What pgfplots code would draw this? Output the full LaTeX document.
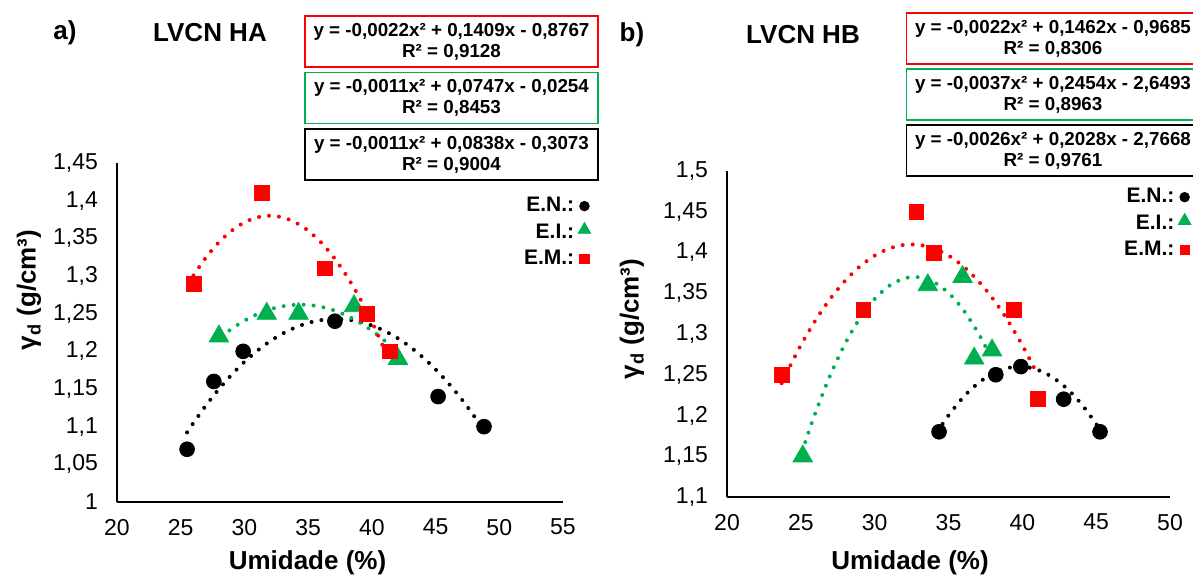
\documentclass[border=0pt]{standalone}
\usepackage{pgfplots}
\pgfplotsset{compat=1.18}
\usepackage{fontspec}
\setmainfont{Liberation Sans}
\definecolor{exred}{RGB}{255,0,0}
\definecolor{exgreen}{RGB}{0,176,80}

\pgfplotsset{
  myax/.style={
    scale only axis,
    axis lines*=left,
    axis line style={line width=0.8pt, black},
    major tick length=0pt,
    tick style={draw=none},
    tick label style={font=\fontsize{11.5}{13}\selectfont},
    /pgf/number format/use comma,
    /pgf/number format/assume math mode=true,
    yticklabel style={xshift=-6pt},
    xticklabel style={yshift=-5pt},
    clip=false,
    legend style={draw=none, fill=none, font=\bfseries\fontsize{10.5}{12}\selectfont,
                  row sep=0.5pt, inner sep=0pt, anchor=north east},
    legend plot pos=right,
    legend cell align=right,
  },
  trend/.style={line width=2pt, line cap=round, dash pattern=on 0pt off 5pt,
                smooth, no markers, forget plot},
  ptN/.style={only marks, mark=*, mark size=3.7pt, mark options={fill=black, draw=black},
              legend image code/.code={\draw[mark size=2.4pt] plot coordinates {(0.1cm,0cm)};}},
  ptI/.style={only marks, mark=triangle*, mark size=5.6pt, mark options={fill=exgreen, draw=exgreen},
              legend image code/.code={\draw[mark size=3.6pt] plot coordinates {(0.1cm,0.05cm)};}},
  ptM/.style={only marks, mark=square*, mark size=3.7pt, mark options={fill=exred, draw=exred},
              legend image code/.code={\draw[mark size=2.3pt] plot coordinates {(0.1cm,0cm)};}},
}

\begin{document}
\begin{tikzpicture}
\path[use as bounding box] (0,0) rectangle (596.5pt,-288.5pt);
\clip (0,0) rectangle (596.5pt,-288.5pt);

% ---------------- a) LVCN HA ----------------
\begin{axis}[myax,
  at={(58.5pt,-251pt)}, anchor=south west,
  width=223pt, height=169.5pt,
  xmin=20, xmax=55, ymin=1, ymax=1.45,
  xtick={20,25,30,35,40,45,50,55},
  ytick={1,1.05,1.1,1.15,1.2,1.25,1.3,1.35,1.4,1.45},
  legend style={at={(1.063,0.9115)}},
]
% trendlines
\addplot[trend, black] coordinates {
(25.5,1.0924)(26,1.1050)(27,1.1286)(28,1.1499)(29,1.1690)(30,1.1860)(31,1.2007)
(32,1.2133)(33,1.2236)(34,1.2317)(35,1.2377)(36,1.2414)(37,1.2430)(38,1.2423)
(39,1.2394)(40,1.2344)(41,1.2271)(42,1.2177)(43,1.2060)(44,1.1921)(45,1.1761)
(46,1.1578)(47,1.1374)(48,1.1147)(48.8,1.0950)};
\addplot[trend, exgreen] coordinates {
(28.2,1.2197)(29,1.2299)(30,1.2407)(31,1.2493)(32,1.2557)(33,1.2598)(34,1.2618)
(35,1.2616)(36,1.2592)(37,1.2546)(38,1.2477)(39,1.2387)(40,1.2275)(41,1.2141)(42,1.1985)};
\addplot[trend, exred] coordinates {
(26,1.3008)(27,1.325)(28,1.3448)(29,1.3602)(30,1.3712)(31,1.3778)(32,1.38)
(33,1.3778)(34,1.3712)(35,1.3602)(36,1.3448)(37,1.325)(38,1.3008)(39,1.2722)
(40,1.2392)(41,1.2018)(41.4,1.1856)};
% points
\addplot[ptN] coordinates {(25.5,1.07)(27.6,1.16)(29.9,1.20)(37.1,1.24)(45.2,1.14)(48.8,1.10)};
\addlegendentry{E.N.:}
\addplot[ptI] coordinates {(28.0,1.22)(31.75,1.25)(34.25,1.25)(38.6,1.26)(42.05,1.19)};
\addlegendentry{E.I.:}
\addplot[ptM] coordinates {(26.04,1.29)(31.4,1.41)(36.3,1.31)(39.6,1.25)(41.4,1.20)};
\addlegendentry{E.M.:}
\end{axis}

% ---------------- b) LVCN HB ----------------
\begin{axis}[myax,
  at={(363.5pt,-248.5pt)}, anchor=south west,
  width=221.5pt, height=163pt,
  xmin=20, xmax=50, ymin=1.1, ymax=1.5,
  xtick={20,25,30,35,40,45,50},
  ytick={1.1,1.15,1.2,1.25,1.3,1.35,1.4,1.45,1.5},
  legend style={at={(1.048,0.960)}},
]
\addplot[trend, black] coordinates {
(34.6,1.1897)(35,1.2001)(36,1.2225)(37,1.2396)(38,1.2516)(39,1.2583)(40,1.2599)
(41,1.2563)(42,1.2474)(43,1.2334)(44,1.2141)(45,1.1897)(45.3,1.1813)};
\addplot[trend, exgreen] coordinates {
(25.3,1.1674)(26,1.2039)(27,1.2498)(28,1.2883)(29,1.3193)(30,1.3430)(31,1.3593)
(32,1.3682)(33,1.3697)(34,1.3637)(35,1.3504)(36,1.3297)(37,1.3016)(37.6,1.2812)};
\addplot[trend, exred] coordinates {
(23.7,1.2396)(24,1.2510)(25,1.2862)(26,1.3170)(27,1.3434)(28,1.3654)(29,1.3830)
(30,1.3962)(31,1.4050)(32,1.4094)(33,1.4094)(34,1.4050)(35,1.3962)(36,1.3830)
(37,1.3654)(38,1.3434)(39,1.3170)(40,1.2862)(40.9,1.2548)};
\addplot[ptN] coordinates {(34.36,1.18)(38.2,1.25)(39.9,1.26)(42.8,1.22)(45.26,1.18)};
\addlegendentry{E.N.:}
\addplot[ptI] coordinates {(25.13,1.15)(33.6,1.36)(35.95,1.37)(36.74,1.27)(37.95,1.28)};
\addlegendentry{E.I.:}
\addplot[ptM] coordinates {(23.72,1.25)(29.23,1.33)(32.82,1.45)(34.03,1.40)(39.44,1.33)(41.08,1.22)};
\addlegendentry{E.M.:}
\end{axis}

% ---------------- texts (pixel grid: 1px = 0.5pt) ----------------
\begin{scope}[x=0.5pt, y=-0.5pt]
\tikzset{eqbox/.style={draw, line width=0.8pt, minimum width=146.5pt, minimum height=25.5pt,
   inner sep=0pt, align=center, font=\bfseries\fontsize{9.4}{10.6}\selectfont}}
\node[font=\bfseries\fontsize{13}{15}\selectfont] at (65,33) {a)};
\node[font=\bfseries\fontsize{13}{15}\selectfont] at (210,33) {LVCN HA};
\node[font=\bfseries\fontsize{13}{15}\selectfont] at (632,35) {b)};
\node[font=\bfseries\fontsize{13}{15}\selectfont] at (803,35) {LVCN HB};

\node[eqbox, draw=exred] at (451.5,41.5) {y = -0,0022x² + 0,1409x - 0,8767\\R² = 0,9128};
\node[eqbox, draw=exgreen] at (451.5,98) {y = -0,0011x² + 0,0747x - 0,0254\\R² = 0,8453};
\node[eqbox, draw=black] at (451.5,154.5) {y = -0,0011x² + 0,0838x - 0,3073\\R² = 0,9004};

\node[eqbox, draw=exred] at (1053,38.5) {y = -0,0022x² + 0,1462x - 0,9685\\R² = 0,8306};
\node[eqbox, draw=exgreen] at (1053,94.5) {y = -0,0037x² + 0,2454x - 2,6493\\R² = 0,8963};
\node[eqbox, draw=black] at (1053,150.5) {y = -0,0026x² + 0,2028x - 2,7668\\R² = 0,9761};

\node[font=\bfseries\fontsize{13}{15}\selectfont] at (307.5,563) {Umidade (\%)};
\node[font=\bfseries\fontsize{13}{15}\selectfont] at (910,563) {Umidade (\%)};
\node[font=\bfseries\fontsize{13}{15}\selectfont, rotate=90] at (29,290) {γ\textsubscript{d} (g/cm³)};
\node[font=\bfseries\fontsize{13}{15}\selectfont, rotate=90] at (632,319) {γ\textsubscript{d} (g/cm³)};
\end{scope}
\end{tikzpicture}
\end{document}
